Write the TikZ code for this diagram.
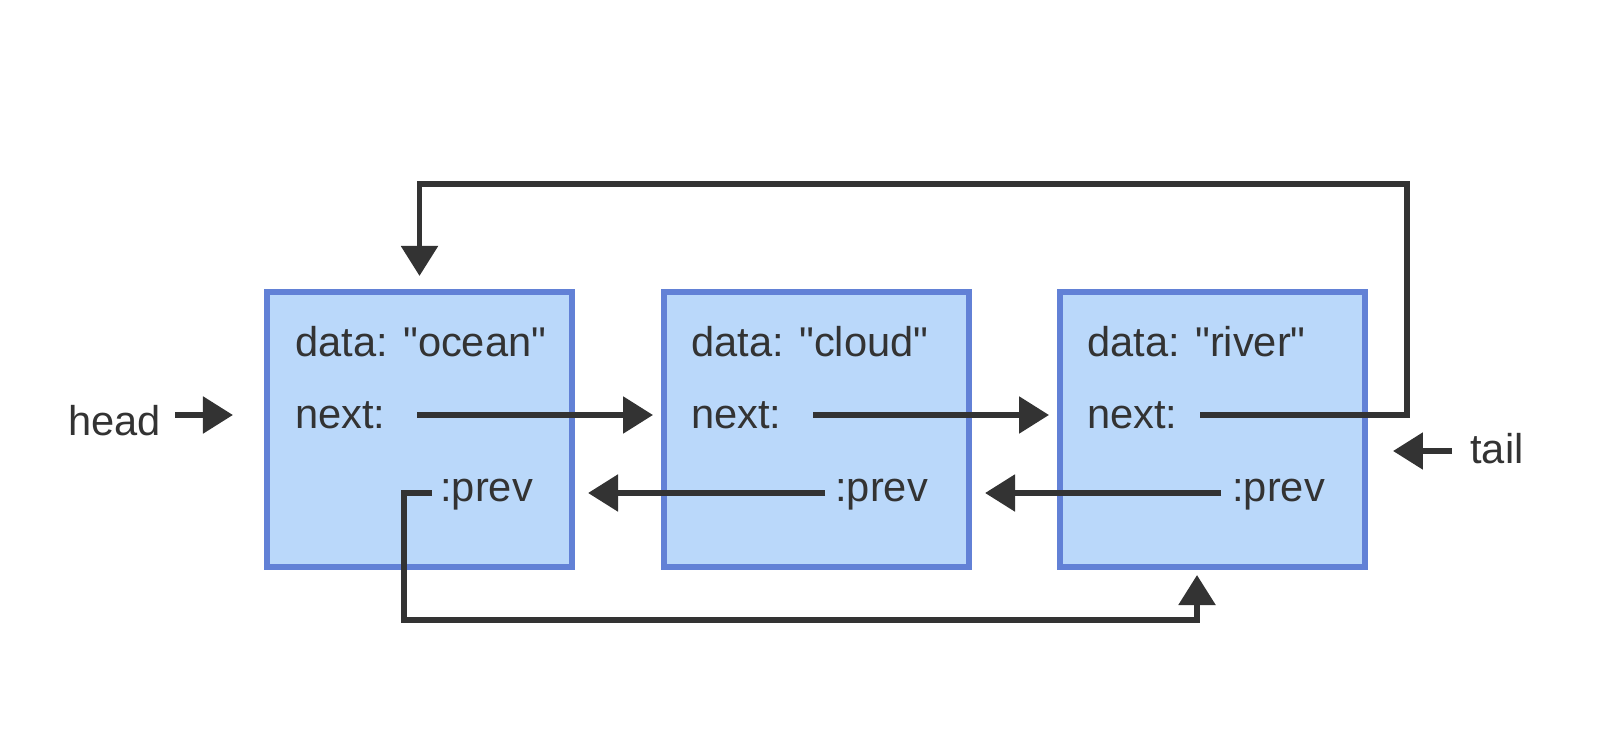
\documentclass[tikz,border=0pt]{standalone}
\usepackage{fontspec}
\setmainfont{Liberation Sans}
\usetikzlibrary{arrows.meta}
\definecolor{ink}{HTML}{333333}
\definecolor{boxfill}{HTML}{BAD8FA}
\definecolor{boxedge}{HTML}{6281D6}
\newcommand{\lfont}{\fontsize{29.6pt}{35pt}\selectfont}
\newcommand{\qt}{\textquotedbl}

\begin{document}
\begin{tikzpicture}[x=0.025cm, y=-0.025cm]
	\tikzstyle{listbox}=[draw=boxedge, fill=boxfill, line width=4.3pt, minimum width=7.625cm, minimum height=6.875cm, inner sep=0pt, outer sep=0pt]
	\tikzstyle{lbl}=[text=ink, font=\lfont, inner sep=0pt, anchor=base west]
	\tikzstyle{ptr}=[draw=ink, line width=3.9pt, -{Triangle[length=21.3pt, width=25.6pt]}]
	\useasboundingbox (0,0) rectangle (1622,734);
	\node[listbox] (ocean) at (419.5,429.5) {};
	\node[listbox] (cloud) at (816.5,429.5) {};
	\node[listbox] (river) at (1212.5,429.5) {};
	\node[lbl] (odata) at (295,357) {data: \qt{}ocean\qt};
	\node[lbl] (onextl) at (295,428) {next:};
	\node[lbl] (oprevl) at (440,501) {:prev};
	\node[lbl] (cdata) at (691,357) {data: \qt{}cloud\qt};
	\node[lbl] (cnextl) at (691,428) {next:};
	\node[lbl] (cprevl) at (835,501) {:prev};
	\node[lbl] (rdata) at (1087,357) {data: \qt{}river\qt};
	\node[lbl] (rnextl) at (1087,428) {next:};
	\node[lbl] (rprevl) at (1232,501) {:prev};
	\node[lbl] (head) at (68,435) {head};
	\node[lbl] (tail) at (1470,463) {tail};
	\coordinate (hstart) at (175,415);
	\coordinate (tstart) at (1452,451);
	\coordinate (onext) at (417,415);
	\coordinate (cnext) at (813,415);
	\coordinate (rnext) at (1200,415);
	\coordinate (oprev) at (432,493);
	\coordinate (cprev) at (825,493);
	\coordinate (rprev) at (1221,493);
	\coordinate (topright) at (1407,184);
	\coordinate (botleft) at (404,620);
	\coordinate (botright) at (1197,620);
	\draw[ptr, shorten >=24.2pt] (hstart) -- (ocean.west |- hstart);
	\draw[ptr, shorten >=19.9pt] (tstart) -- (river.east |- tstart);
	\draw[ptr, shorten >=7.8pt] (onext) -- (cloud.west |- onext);
	\draw[ptr, shorten >=7.8pt] (cnext) -- (river.west |- cnext);
	\draw[ptr, shorten >=11.4pt] (rnext) -| (topright) -| (ocean.north);
	\draw[ptr, shorten >=11.4pt] (cprev) -- (ocean.east |- cprev);
	\draw[ptr, shorten >=11.4pt] (rprev) -- (cloud.east |- rprev);
	\draw[ptr, shorten >=5.7pt] (oprev) -| (botleft) -| (river.south -| botright);
\end{tikzpicture}
\end{document}
